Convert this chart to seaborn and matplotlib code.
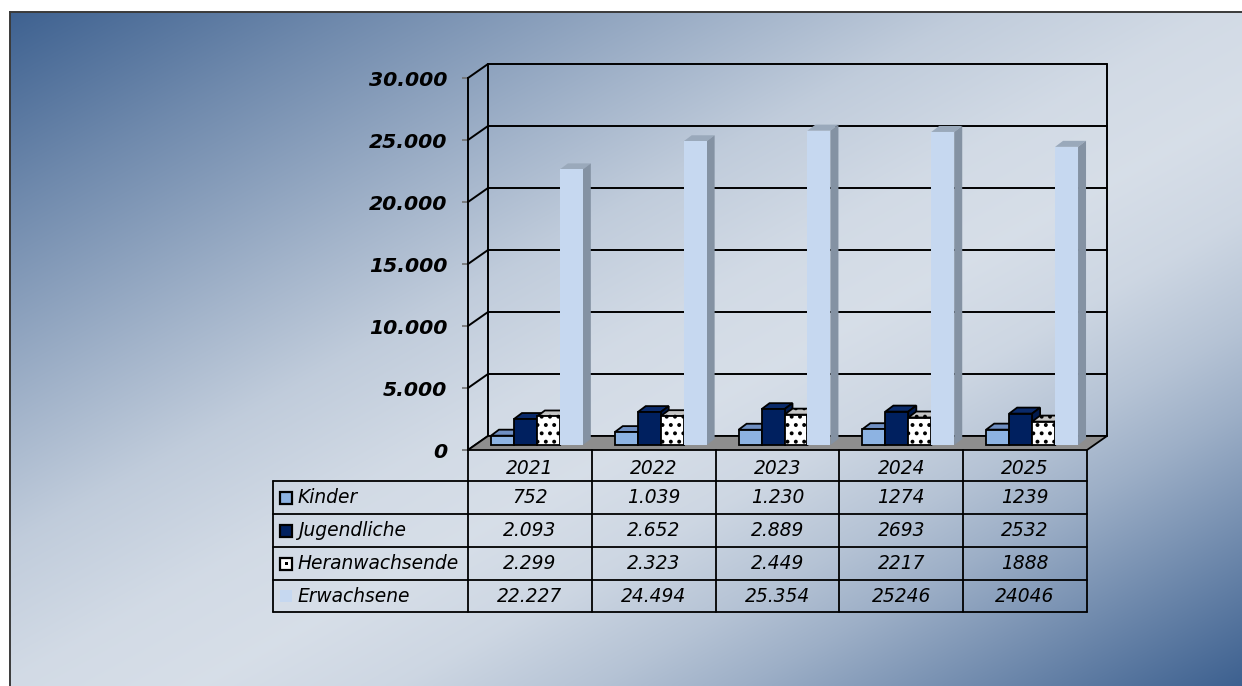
import numpy as np
import pandas as pd
import matplotlib
matplotlib.use("Agg")
import matplotlib.pyplot as plt
import matplotlib.patches as mpatches
import matplotlib.transforms as mtransforms
from matplotlib.ticker import FixedLocator, FuncFormatter
import seaborn as sns

# ---- data -------------------------------------------------------------
years = ["2021", "2022", "2023", "2024", "2025"]
series = ["Kinder", "Jugendliche", "Heranwachsende", "Erwachsene"]
kinder = [752, 1039, 1230, 1274, 1239]
jugendliche = [2093, 2652, 2889, 2693, 2532]
heranwachsende = [2299, 2323, 2449, 2217, 1888]
erwachsene = [22227, 24494, 25354, 25246, 24046]
# table cells of these years are written with a thousands dot
dotted_years = [True, True, True, False, False]
y_ticks = [0, 5000, 10000, 15000, 20000, 25000, 30000]

values = {"Kinder": kinder, "Jugendliche": jugendliche,
          "Heranwachsende": heranwachsende, "Erwachsene": erwachsene}
df = pd.DataFrame([{"year": y, "series": s, "value": values[s][i]}
                   for s in series for i, y in enumerate(years)])

# ---- styling ----------------------------------------------------------
front_col = {"Kinder": "#8db3e2", "Jugendliche": "#00205f",
             "Heranwachsende": "#ffffff", "Erwachsene": "#c6d8f0"}
top_col = {"Kinder": "#6f8fc2", "Jugendliche": "#0a2a6a",
           "Heranwachsende": "#c4c4c4", "Erwachsene": "#9aa9bb"}
side_col = {"Kinder": "#5d7cad", "Jugendliche": "#001a4d",
            "Heranwachsende": "#ababab", "Erwachsene": "#8492a3"}
edged = {"Kinder": True, "Jugendliche": True, "Heranwachsende": True, "Erwachsene": False}

W, H = 1242, 686
sns.set_theme(style="white")
plt.rcParams["font.family"] = ["DejaVu Sans"]
plt.rcParams["hatch.linewidth"] = 1.6
plt.rcParams["hatch.color"] = "#222222"

fig = plt.figure(figsize=(W / 100, H / 100), dpi=100)
fig.patch.set_facecolor("white")


def fx(px):
    return px / W


def fy(py):
    return 1 - py / H


# ---- gradient backdrop: dark corners top-left / bottom-right, light diagonal
bg = fig.add_axes([fx(10), 0, 1 - fx(10), fy(12)], zorder=0)
gx, gy = np.meshgrid(np.linspace(10, W, 500), np.linspace(12, H, 300))
t = (gx / W + gy / H) / 2
ramp_t = [0.0, 0.15, 0.31, 0.40, 0.50, 0.58, 0.66, 0.74, 0.80, 0.90, 1.0]
ramp_s = [0.0, 0.33, 0.66, 0.84, 0.95, 0.98, 0.92, 0.77, 0.62, 0.32, 0.02]
s = np.interp(t, ramp_t, ramp_s)
dark = np.array([58, 94, 142]) / 255
light = np.array([218, 225, 234]) / 255
img = dark[None, None, :] + s[..., None] * (light - dark)[None, None, :]
bg.imshow(img, extent=[0, 1, 0, 1], aspect="auto", interpolation="bilinear")
bg.set_xlim(0, 1)
bg.set_ylim(0, 1)
bg.set_xticks([])
bg.set_yticks([])
for side in ("right", "bottom"):
    bg.spines[side].set_visible(False)
for side in ("left", "top"):
    bg.spines[side].set_visible(True)
    bg.spines[side].set_color("#3a3a3a")
    bg.spines[side].set_linewidth(1.4)

# ---- main axes (front plane of the 3-D box) ----------------------------
L, R, B, T = 468, 1087, 450, 78
ax = fig.add_axes([fx(L), fy(B), fx(R) - fx(L), fy(T) - fy(B)], zorder=2)
ax.patch.set_alpha(0)

sns.barplot(data=df, x="year", y="value", hue="series", hue_order=series,
            order=years, palette=front_col, width=0.742, gap=0, saturation=1,
            legend=False, errorbar=None, ax=ax)
ax.set_xlim(-0.5, 4.5)
ax.set_ylim(0, 30000)

# pixel -> data conversion for depth offsets
ppx = (R - L) / 5.0
ppy = (B - T) / 30000.0
WALL_DX, WALL_DY = 20 / ppx, 14 / ppy
BAR_FX, BAR_FY = 7 / ppx, 5 / ppy
BAR_DX, BAR_DY = 8 / ppx, 6 / ppy

# back wall gridlines, side wall and frame
grid_kw = dict(color="black", lw=1.4, clip_on=False, zorder=1)
for v in y_ticks:
    ax.plot([-0.5 + WALL_DX, 4.5 + WALL_DX], [v + WALL_DY] * 2, **grid_kw)
    ax.plot([-0.5, -0.5 + WALL_DX], [v, v + WALL_DY], **grid_kw)
for xv in (-0.5 + WALL_DX, 4.5 + WALL_DX):
    ax.plot([xv, xv], [WALL_DY, 30000 + WALL_DY], **grid_kw)

# floor
floor = mpatches.Polygon([(-0.5, 0), (4.5, 0), (4.5 + WALL_DX, WALL_DY),
                          (-0.5 + WALL_DX, WALL_DY)], closed=True,
                         facecolor="#8e8e8e", edgecolor="black", lw=1.3,
                         clip_on=False, zorder=1.5)
ax.add_patch(floor)

# give the seaborn bars depth
for k, (name, cont) in enumerate(zip(series, ax.containers)):
    ec = "black" if edged[name] else "none"
    lw = 1.3 if edged[name] else 0
    for p in cont.patches:
        x0 = p.get_x() + BAR_FX
        w = p.get_width()
        h = p.get_height()
        p.set_x(x0)
        p.set_y(BAR_FY)
        p.set_edgecolor(ec)
        p.set_linewidth(lw)
        p.set_clip_on(False)
        p.set_zorder(4 + 2 * k)
        base, topv = BAR_FY, BAR_FY + h
        top = mpatches.Polygon([(x0, topv), (x0 + w, topv),
                                (x0 + w + BAR_DX, topv + BAR_DY),
                                (x0 + BAR_DX, topv + BAR_DY)], closed=True,
                               facecolor=top_col[name], edgecolor=ec, lw=lw,
                               clip_on=False, zorder=3 + 2 * k)
        side = mpatches.Polygon([(x0 + w, base), (x0 + w + BAR_DX, base + BAR_DY),
                                 (x0 + w + BAR_DX, topv + BAR_DY), (x0 + w, topv)],
                                closed=True, facecolor=side_col[name], edgecolor=ec,
                                lw=lw, clip_on=False, zorder=3 + 2 * k)
        if name == "Heranwachsende":
            p.set_hatch("..")
            top.set_hatch("..")
        ax.add_patch(top)
        ax.add_patch(side)

# axes cosmetics
for side in ("top", "right", "bottom"):
    ax.spines[side].set_visible(False)
ax.spines["left"].set_visible(True)
ax.spines["left"].set_color("black")
ax.spines["left"].set_linewidth(1.4)
ax.spines["left"].set_zorder(2)
ax.set_xticks([])
ax.set_xlabel("")
ax.set_ylabel("")
ax.yaxis.set_major_locator(FixedLocator(y_ticks))
ax.yaxis.set_major_formatter(FuncFormatter(lambda v, _: f"{int(v):,}".replace(",", ".")))
ax.tick_params(axis="y", left=True, length=4.3, width=1.2, color="#707070",
               pad=10.5, labelsize=14.7, labelcolor="black")
for lbl in ax.get_yticklabels():
    lbl.set_fontweight("bold")
    lbl.set_fontstyle("italic")

# ---- data table ---------------------------------------------------------
bt = mtransforms.blended_transform_factory(ax.transData, fig.transFigure)
line_kw = dict(color="black", lw=1.3, clip_on=False, zorder=20)
row_edges = [481, 514, 547, 580, 612]
for xe in np.arange(-0.5, 5.0, 1.0):
    ax.plot([xe, xe], [fy(450), fy(612)], transform=bt, **line_kw)
for ry in row_edges:
    fig.add_artist(plt.Line2D([fx(273), fx(R)], [fy(ry)] * 2, color="black", lw=1.3, zorder=20))
fig.add_artist(plt.Line2D([fx(273)] * 2, [fy(481), fy(612)], color="black", lw=1.3, zorder=20))

txt_kw = dict(fontsize=13.4, fontstyle="italic", color="black", zorder=21)
for i, yr in enumerate(years):
    ax.text(i, fy(468), yr, transform=bt, ha="center", va="center", **txt_kw)

for r, name in enumerate(series):
    cy = (row_edges[r] + row_edges[r + 1]) / 2
    # legend key
    key = mpatches.Rectangle((fx(280), fy(cy + 6)), 12 / W, 12 / H,
                             transform=fig.transFigure,
                             facecolor=front_col[name],
                             edgecolor="black" if edged[name] else "none",
                             lw=1.6 if edged[name] else 0, zorder=21)
    fig.add_artist(key)
    if name == "Heranwachsende":
        fig.add_artist(mpatches.Rectangle((fx(284.5), fy(cy + 1.5)), 3 / W, 3 / H,
                                          transform=fig.transFigure, facecolor="black",
                                          edgecolor="none", zorder=22))
    fig.text(fx(298), fy(cy), name, ha="left", va="center", **txt_kw)
    for i, v in enumerate(values[name]):
        label = f"{v:,}".replace(",", ".") if dotted_years[i] else str(v)
        ax.text(i, fy(cy), label, transform=bt, ha="center", va="center", **txt_kw)

fig.savefig("out.png", dpi=100)
